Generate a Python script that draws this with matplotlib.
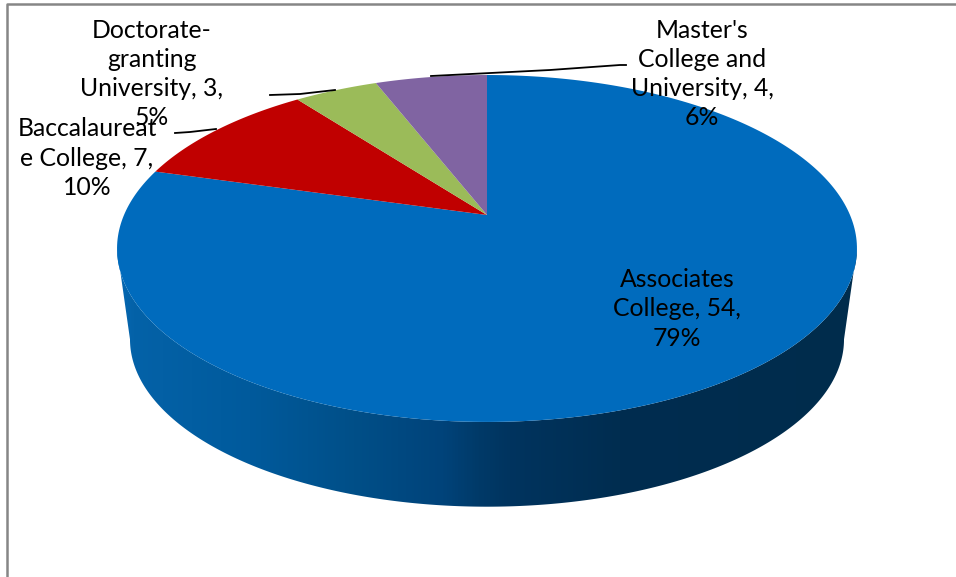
import numpy as np
import matplotlib
matplotlib.use("Agg")
import matplotlib.pyplot as plt
from matplotlib.colors import LinearSegmentedColormap
from matplotlib.patches import Polygon

plt.rcParams['font.family'] = ['Lato', 'DejaVu Sans']

# chart data
categories = ["Associates\nCollege", "Baccalaureat\ne College", "Doctorate-\ngranting\nUniversity", "Master's\nCollege and\nUniversity"]
values = [54, 7, 3, 4]
percents = [79, 10, 5, 6]
colors = ["#006bbd", "#c00000", "#9bbb59", "#8064a2"]

# pie geometry in pixels, the tilt gives a perspective ellipse
cx, cy = 487, 215
r_x, r_y = 363, 167
tilt = 0.193
wall_cy = 307
wall_scale = 0.965


def project(theta, scale=1.0, center_y=cy):
    # theta runs clockwise from 12 o'clock
    u, v = np.sin(theta), np.cos(theta)
    d = 1 + tilt * v
    return cx + scale * r_x * u / d, center_y - scale * r_y * v / d


fig = plt.figure(figsize=(9.56, 5.77), dpi=100)
ax = fig.add_axes([0, 0, 1, 1])

# side wall, shaded by x position
left = 2 * np.pi - np.arccos(-tilt)
right = np.arccos(-tilt)
t = np.linspace(right, left, 300)
x_top, y_top = project(t)
x_bot, y_bot = project(t, wall_scale, wall_cy)
wall_xy = np.column_stack([np.r_[x_top, x_bot[::-1]], np.r_[y_top, y_bot[::-1]]])

stops = [(0.0, "#0468b4"), (0.02, "#0462a8"), (0.18, "#005a9c"), (0.32, "#004f88"),
         (0.44, "#00437a"), (0.49, "#003a68"), (0.53, "#00345f"), (0.68, "#002d50"), (1.0, "#002c4c")]
wall_cmap = LinearSegmentedColormap.from_list("wall", stops)
grad = np.linspace(0, 1, 512).reshape(1, -1)
im = ax.imshow(grad, cmap=wall_cmap, extent=[117, 857, 520, 200], aspect="auto", zorder=1)
wall = Polygon(wall_xy, closed=True, facecolor="none", edgecolor="none", transform=ax.transData)
ax.add_patch(wall)
im.set_clip_path(wall)

# top face wedges
total = sum(values)
start = 0.0
for val, col in zip(values, colors):
    end = start + val / total * 2 * np.pi
    t = np.linspace(start, end, 300)
    x, y = project(t)
    ax.fill(np.r_[cx, x], np.r_[cy, y], color=col, lw=0, zorder=2)
    start = end

# leader lines
ax.plot([175, 190, 216], [133, 132, 129], color="black", lw=1.3, zorder=3)
ax.plot([270, 300, 335], [95, 94, 90], color="black", lw=1.3, zorder=3)
ax.plot([431, 550, 620, 626], [76, 70, 65, 65], color="black", lw=1.3, zorder=3)

# data labels
label_pos = [(677, 309), (87, 158), (152, 74), (702, 74)]
for name, val, pct, (lx, ly) in zip(categories, values, percents, label_pos):
    ax.text(lx, ly, f"{name}, {val},\n{pct}%", ha="center", va="center",
            fontsize=17.8, color="black", linespacing=1.33, zorder=4)

# chart frame, only left and top fall inside the crop
ax.plot([7, 7, 956], [577, 4, 4], color="#868686", lw=1.8, zorder=5)

ax.set_xlim(0, 956)
ax.set_ylim(577, 0)
ax.axis("off")
fig.savefig("out.png", dpi=100)
